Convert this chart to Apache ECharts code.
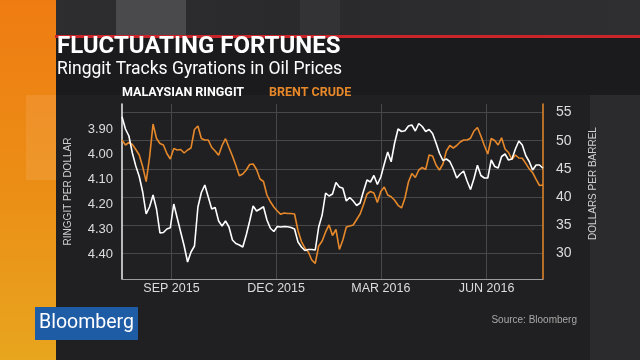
<!DOCTYPE html>
<html><head><meta charset="utf-8">
<script src="https://cdn.jsdelivr.net/npm/echarts@6/dist/echarts.min.js"></script>
<style>html,body{margin:0;padding:0;background:#202022;}#c{width:640px;height:360px;}</style>
</head><body><div id="c"></div>
<script>
// Sampling: one value every 3 days starting 2015-07-20
const startYMD = [2015, 6, 20];
const stepDays = 3;
const endYMD = [2016, 6, 20];

const ringgit = [3.851,3.900,3.928,3.996,4.048,4.090,4.152,4.240,4.211,4.164,
 4.220,4.316,4.314,4.300,4.295,4.200,4.256,4.312,4.367,4.432,
 4.392,4.368,4.212,4.154,4.124,4.172,4.220,4.214,4.268,4.288,
 4.268,4.292,4.344,4.358,4.364,4.372,4.324,4.268,4.208,4.228,
 4.220,4.211,4.264,4.297,4.310,4.290,4.292,4.290,4.291,4.294,
 4.300,4.352,4.372,4.386,4.382,4.382,4.384,4.292,4.244,4.156,
 4.168,4.160,4.114,4.132,4.137,4.188,4.174,4.188,4.206,4.196,
 4.148,4.104,4.112,4.086,4.122,4.092,4.040,3.992,4.031,3.956,
 3.900,3.910,3.907,3.888,3.884,3.908,3.878,3.890,3.910,3.902,
 3.918,3.956,3.997,4.026,4.020,4.030,4.059,4.096,4.080,4.068,
 4.108,4.142,4.098,4.045,4.086,4.096,4.096,4.024,4.050,4.056,
 4.010,4.000,4.024,4.020,3.980,3.948,3.964,4.006,4.030,4.064,
 4.044,4.044,4.057];

const brent = [50.12,49.24,49.68,49.33,48.44,47.47,45.39,42.74,47.11,52.96,
 50.39,49.50,49.24,47.73,46.76,48.62,48.35,48.44,47.82,48.35,
 48.71,51.98,52.60,50.39,50.12,50.12,48.79,48.17,47.41,49.15,
 50.35,48.79,47.29,45.61,43.80,44.10,44.81,45.78,45.87,44.90,
 43.21,42.77,40.38,39.18,38.25,37.55,36.96,37.19,37.10,37.10,
 37.01,34.09,32.14,30.99,30.28,28.87,28.28,31.35,32.23,33.83,
 35.07,33.21,34.27,30.73,32.41,34.71,34.89,35.07,36.04,37.01,
 38.70,40.56,41.00,40.73,39.05,41.00,41.80,40.38,40.08,39.44,
 38.56,38.08,39.85,42.68,44.19,43.48,44.81,45.25,44.90,47.47,
 47.29,45.69,44.81,45.87,48.17,49.15,48.71,49.15,49.77,50.12,
 50.12,50.44,51.72,52.34,50.83,49.15,47.64,50.39,50.03,49.24,
 50.51,48.53,47.91,46.67,47.47,46.93,46.88,45.98,45.02,44.33,
 43.13,42.06,42.15];

const xTickDates = [[2015,8,1],[2015,11,1],[2016,2,1],[2016,5,1]];
const xTickLabels = ['SEP 2015','DEC 2015','MAR 2016','JUN 2016'];
const ringgitTicks = [3.9,4.0,4.1,4.2,4.3,4.4];
const brentTicks = [30,35,40,45,50,55];

const seriesNames = ['MALAYSIAN RINGGIT','BRENT CRUDE'];
const WHITE = '#ffffff', ORANGE = '#e6882a';

const dates = ringgit.map((_, i) => new Date(startYMD[0], startYMD[1], startYMD[2] + i * stepDays).getTime());
const xTicks = xTickDates.map(d => new Date(d[0], d[1], d[2]).getTime());
const xMin = new Date(startYMD[0], startYMD[1], startYMD[2]).getTime();
const xMax = new Date(endYMD[0], endYMD[1], endYMD[2]).getTime();

const chart = echarts.init(document.getElementById('c'), null, {renderer: 'canvas'});
const AX = 'Liberation Sans';

chart.setOption({
  backgroundColor: 'transparent',
  animation: false,
  graphic: [
    {type:'rect', z:-20, shape:{x:0,y:0,width:640,height:360}, style:{fill:'#202022'}},
    {type:'rect', z:-19, shape:{x:0,y:0,width:640,height:36}, style:{fill:{type:'linear',x:0,y:0,x2:1,y2:0,colorStops:[{offset:0,color:'#2e2e30'},{offset:0.5,color:'#2a2a2c'},{offset:1,color:'#2f2f31'}]}}},
    {type:'rect', z:-19, shape:{x:116,y:0,width:70,height:36}, style:{fill:'#4a4a4c'}},
    {type:'rect', z:-19, shape:{x:300,y:0,width:40,height:36}, style:{fill:'#333335'}},
    {type:'rect', z:-19, shape:{x:55,y:38,width:585,height:57}, style:{fill:'#1b1b1d'}},
    {type:'rect', z:-18, shape:{x:55,y:35,width:585,height:3}, style:{fill:'#c9252b'}},
    {type:'rect', z:-19, shape:{x:590,y:95,width:50,height:265}, style:{fill:'#2b2b2d'}},
    {type:'rect', z:-19, shape:{x:0,y:0,width:56,height:360}, style:{fill:{type:'linear',x:0,y:0,x2:0,y2:1,colorStops:[{offset:0,color:'#ef7c12'},{offset:0.55,color:'#eb8f16'},{offset:1,color:'#e8a51e'}]}}},
    {type:'rect', z:-18, shape:{x:26,y:95,width:30,height:85}, style:{fill:'rgba(255,225,190,0.12)'}},
    {type:'text', z:10, x:57, y:47, style:{text:'FLUCTUATING FORTUNES', fill:'#ffffff', fontFamily:'Roboto', fontWeight:'bold', fontSize:24, verticalAlign:'middle'}},
    {type:'text', z:10, x:57, y:70, style:{text:'Ringgit Tracks Gyrations in Oil Prices', fill:'#ffffff', fontFamily:'Roboto', fontSize:17.5, verticalAlign:'middle'}},
    {type:'rect', z:10, shape:{x:35,y:307,width:103,height:33}, style:{fill:'#1f5ca6'}},
    {type:'text', z:11, x:86.5, y:323.5, style:{text:'Bloomberg', fill:'#ffffff', fontFamily:'Roboto', fontSize:19.5, align:'center', verticalAlign:'middle'}},
    {type:'text', z:10, x:577, y:320, style:{text:'Source: Bloomberg', fill:'#a8a8a8', fontFamily:AX, fontSize:10, align:'right', verticalAlign:'middle'}}
  ],
  legend: {
    left: 117, top: 86, icon: 'none', itemWidth: 0, itemHeight: 0, itemGap: 20, padding: 0,
    selectedMode: false,
    data: [
      {name: seriesNames[0], textStyle: {color: WHITE}},
      {name: seriesNames[1], textStyle: {color: ORANGE}}
    ],
    textStyle: {fontFamily: 'Roboto', fontWeight: 'bold', fontSize: 12.5}
  },
  grid: {left: 122, right: 97, top: 104, bottom: 81, outerBoundsMode: 'none'},
  xAxis: {
    type: 'value', min: xMin, max: xMax,
    axisLine: {show: true, lineStyle: {color: '#9c9c9c', width: 1}},
    axisTick: {show: false, customValues: xTicks},
    splitLine: {show: true, lineStyle: {color: '#48484a', width: 1}},
    axisLabel: {customValues: xTicks, color: '#dcdcdc', fontFamily: AX, fontSize: 12.5, margin: 3,
      formatter: v => { const k = xTicks.indexOf(v); return k >= 0 ? xTickLabels[k] : ''; }}
  },
  yAxis: [
    {
      type: 'value', position: 'left', inverse: true, min: 3.8, max: 4.5,
      axisLine: {show: true, lineStyle: {color: '#eeeeee', width: 1.5}},
      axisTick: {show: false, customValues: ringgitTicks},
      splitLine: {show: false},
      axisLabel: {customValues: ringgitTicks, color: '#dcdcdc', fontFamily: AX, fontSize: 13, margin: 9,
        formatter: v => v.toFixed(2)},
      name: 'RINGGIT PER DOLLAR', nameLocation: 'middle', nameGap: 49, nameRotate: 90,
      nameTextStyle: {color: '#cfcfcf', fontFamily: AX, fontSize: 10}
    },
    {
      type: 'value', position: 'right', min: 25.5, max: 56.5,
      axisLine: {show: true, lineStyle: {color: ORANGE, width: 1.5}},
      axisTick: {show: false, customValues: brentTicks},
      splitLine: {show: true, lineStyle: {color: '#48484a', width: 1}},
      axisLabel: {customValues: brentTicks, color: '#dcdcdc', fontFamily: AX, fontSize: 14, margin: 13},
      name: 'DOLLARS PER BARREL', nameLocation: 'middle', nameGap: 45, nameRotate: 90,
      nameTextStyle: {color: '#cfcfcf', fontFamily: AX, fontSize: 10, padding: [0, 0, 0, 16]}
    }
  ],
  series: [
    {name: seriesNames[1], type: 'line', yAxisIndex: 1, showSymbol: false, symbol: 'none',
     color: ORANGE, lineStyle: {color: ORANGE, width: 1.6},
     data: brent.map((v, i) => [dates[i], v])},
    {name: seriesNames[0], type: 'line', yAxisIndex: 0, showSymbol: false, symbol: 'none',
     color: WHITE, lineStyle: {color: WHITE, width: 1.6},
     data: ringgit.map((v, i) => [dates[i], v])}
  ]
});
</script>
</body></html>
